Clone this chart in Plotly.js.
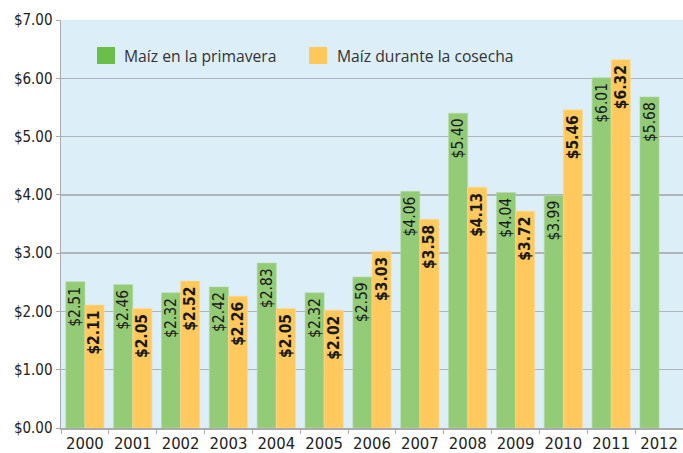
<!DOCTYPE html>
<html>
<head>
<meta charset="utf-8">
<script src="https://cdn.plot.ly/plotly-3.0.1.min.js"></script>
<style>html,body{margin:0;padding:0;background:#fff}#chart{width:683px;height:453px}
.cond .xtick text, .cond .ytick text, .cond text.bartext{font-stretch:condensed !important}</style>
</head>
<body>
<div id="chart" class="cond"></div>
<script>
const years = ["2000","2001","2002","2003","2004","2005","2006","2007","2008","2009","2010","2011","2012"];
const primavera = [2.51,2.46,2.32,2.42,2.83,2.32,2.59,4.06,5.40,4.04,3.99,6.01,5.68];
const cosecha = [2.11,2.05,2.52,2.26,2.05,2.02,3.03,3.58,4.13,3.72,5.46,6.32,null];
const seriesNames = ["Maíz en la primavera","Maíz durante la cosecha"];
const yTicks = [0,1,2,3,4,5,6,7];

const narrow = '"DejaVu Sans", sans-serif';

const traces = [
  {
    type:'bar', x:years, y:primavera, name:seriesNames[0],
    marker:{color:'#93cb77', line:{color:'#b8dca4', width:0.6}},
    texttemplate:'$%{y:.2f}', textposition:'inside', insidetextanchor:'end',
    textangle:-90, constraintext:'none',
    textfont:{family:narrow, size:15.5, color:'#1a1a1a'},
    hoverinfo:'skip', cliponaxis:false
  },
  {
    type:'bar', x:years, y:cosecha, name:seriesNames[1],
    marker:{color:'#ffc95d', line:{color:'#ffdb94', width:0.6}},
    texttemplate:'<b>$%{y:.2f}</b>', textposition:'inside', insidetextanchor:'end',
    textangle:-90, constraintext:'none',
    textfont:{family:narrow, size:15.5, color:'#1a1a1a'},
    hoverinfo:'skip', cliponaxis:false
  }
];

const layout = {
  width:683, height:453,
  margin:{l:61, r:0, t:20, b:25, pad:0},
  paper_bgcolor:'#ffffff', plot_bgcolor:'#dcEEF8',
  showlegend:false,
  barmode:'group', bargap:0.2, bargroupgap:0,
  xaxis:{
    type:'category', tickson:'boundaries', ticks:'outside', ticklen:4, tickcolor:'#aaaaaa',
    showline:true, linecolor:'#aaaaaa', linewidth:1.5, showgrid:false, tickangle:0,
    tickfont:{family:narrow, size:16.5, color:'#222'}, fixedrange:true
  },
  yaxis:{
    range:[0,7], tickvals:yTicks, tickformat:'$.2f', ticks:'outside', ticklen:4, tickcolor:'#aaaaaa',
    showline:true, linecolor:'#aaaaaa', linewidth:1.5,
    showgrid:true, gridcolor:'#b0b4b8', gridwidth:1.5, zeroline:false,
    tickfont:{family:narrow, size:15, color:'#222'}, fixedrange:true
  },
  shapes:[
    {type:'rect', xref:'paper', yref:'paper', x0:(97-61)/622, x1:(115-61)/622, y0:(428-64)/408, y1:(428-47)/408, fillcolor:'#6abf4b', line:{width:0}},
    {type:'rect', xref:'paper', yref:'paper', x0:(309-61)/622, x1:(327-61)/622, y0:(428-64)/408, y1:(428-47)/408, fillcolor:'#ffc85a', line:{width:0}}
  ],
  annotations:[
    {xref:'paper', yref:'paper', x:(122-61)/622, y:(428-56)/408, xanchor:'left', yanchor:'middle', showarrow:false,
     text:seriesNames[0], font:{family:'"Open Sans", "Noto Sans", sans-serif', size:15.7, color:'#333'}},
    {xref:'paper', yref:'paper', x:(335-61)/622, y:(428-56)/408, xanchor:'left', yanchor:'middle', showarrow:false,
     text:seriesNames[1], font:{family:'"Open Sans", "Noto Sans", sans-serif', size:15.7, color:'#333'}}
  ]
};

Plotly.newPlot('chart', traces, layout, {displayModeBar:false, staticPlot:true});
</script>
</body>
</html>
